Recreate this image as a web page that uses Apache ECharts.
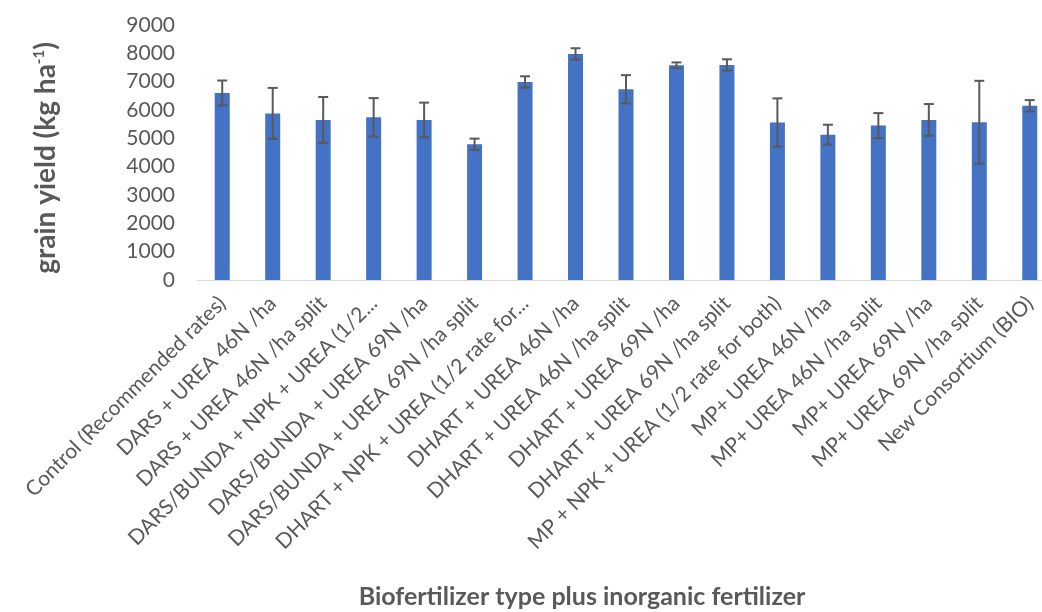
<!DOCTYPE html>
<html>
<head>
<meta charset="utf-8">
<script src="https://cdn.jsdelivr.net/npm/echarts@6/dist/echarts.min.js"></script>
<style>html,body{margin:0;padding:0;background:#fff;}#c{width:1042px;height:612px;}</style>
</head>
<body>
<div id="c"></div>
<script>
var categories = [
  "Control (Recommended rates)",
  "DARS + UREA 46N /ha",
  "DARS + UREA 46N /ha split",
  "DARS/BUNDA + NPK + UREA (1/2...",
  "DARS/BUNDA + UREA 69N /ha",
  "DARS/BUNDA + UREA 69N /ha split",
  "DHART + NPK + UREA (1/2 rate for...",
  "DHART + UREA 46N /ha",
  "DHART + UREA 46N /ha split",
  "DHART + UREA 69N /ha",
  "DHART + UREA 69N /ha split",
  "MP + NPK + UREA (1/2 rate for both)",
  "MP+ UREA 46N /ha",
  "MP+ UREA 46N /ha split",
  "MP+ UREA 69N /ha",
  "MP+ UREA 69N /ha split",
  "New Consortium (BIO)"
];
var yieldMeans = [6600, 5880, 5650, 5740, 5650, 4790, 6990, 7980, 6730, 7580, 7590, 5560, 5130, 5450, 5650, 5570, 6150];
var yieldErrors = [440, 900, 810, 680, 610, 200, 200, 200, 500, 100, 200, 850, 350, 440, 560, 1460, 200];
var yTicks = [0, 9000, 1000];

var errData = yieldMeans.map(function (v, i) { return [i, v, yieldErrors[i]]; });
var font = "Lato, 'Open Sans', sans-serif";
var chart = echarts.init(document.getElementById('c'));
chart.setOption({
  animation: false,
  backgroundColor: '#ffffff',
  grid: { left: 197, top: 25, width: 858, height: 255, outerBoundsMode: 'none', containLabel: false },
  xAxis: {
    type: 'category',
    data: categories,
    axisLine: { lineStyle: { color: '#d9d9d9', width: 1 } },
    axisTick: { show: false },
    axisLabel: { interval: 0, rotate: 45, fontSize: 21, color: '#595959', fontFamily: font, margin: 20 }
  },
  yAxis: {
    type: 'value',
    min: yTicks[0], max: yTicks[1], interval: yTicks[2],
    splitLine: { show: false },
    axisLine: { show: false },
    axisTick: { show: false },
    axisLabel: { fontSize: 21, color: '#595959', fontFamily: font, margin: 22,
      formatter: function (v) { return String(v); } }
  },
  graphic: [
    { type: 'text', x: 46, y: 158, rotation: Math.PI / 2,
      style: { text: '{a|grain yield (kg ha}{s|-1}{a|)}', align: 'center', verticalAlign: 'middle',
        rich: { a: { fontSize: 28, fontWeight: 'bold', fill: '#595959', fontFamily: font },
                s: { fontSize: 15, fontWeight: 'bold', fill: '#595959', fontFamily: font, verticalAlign: 'top', padding: [0,0,12,0] } } } },
    { type: 'text', x: 582, y: 597,
      style: { text: 'Biofertilizer type plus inorganic fertilizer', align: 'center', verticalAlign: 'middle',
        fontSize: 25, fontWeight: 'bold', fill: '#595959', fontFamily: font } }
  ],
  series: [
    { type: 'bar', data: yieldMeans, barWidth: 15, itemStyle: { color: '#4472c4' } },
    { type: 'custom', data: errData, z: 10,
      renderItem: function (params, api) {
        var i = api.value(0), m = api.value(1), e = api.value(2);
        var top = api.coord([i, m + e]);
        var bot = api.coord([i, m - e]);
        var hw = 5;
        var st = { stroke: '#595959', lineWidth: 2 };
        return { type: 'group', children: [
          { type: 'line', shape: { x1: top[0], y1: top[1], x2: bot[0], y2: bot[1] }, style: st },
          { type: 'line', shape: { x1: top[0] - hw, y1: top[1], x2: top[0] + hw, y2: top[1] }, style: st },
          { type: 'line', shape: { x1: bot[0] - hw, y1: bot[1], x2: bot[0] + hw, y2: bot[1] }, style: st }
        ] };
      }
    }
  ]
});
</script>
</body>
</html>
